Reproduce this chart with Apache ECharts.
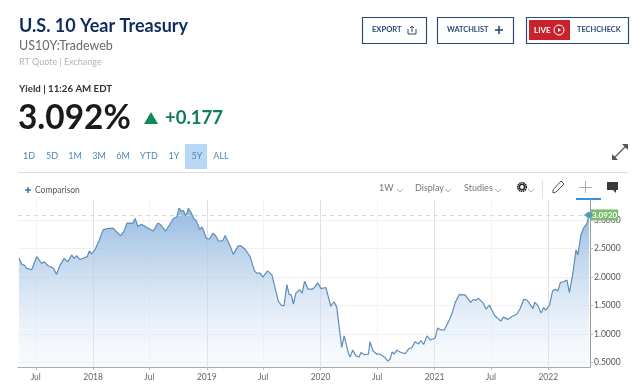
<!DOCTYPE html>
<html>
<head>
<meta charset="utf-8">
<style>
  html, body { margin: 0; height: 100%; background: #fff; }
  #chart { width: 640px; height: 389px; }
</style>
<script src="https://cdn.jsdelivr.net/npm/echarts@6/dist/echarts.min.js"></script>
</head>
<body>
<div id="chart"></div>
<script>
const dates = [
  '2017-05-08','2017-05-17','2017-05-25','2017-06-01','2017-06-07','2017-06-18','2017-06-23','2017-07-04','2017-07-20','2017-07-28',
  '2017-08-10','2017-08-26','2017-09-06','2017-09-15','2017-09-30','2017-10-12','2017-10-24','2017-11-01','2017-11-09','2017-11-20',
  '2017-12-13','2017-12-20','2017-12-27','2018-01-07','2018-01-20','2018-01-26','2018-02-02','2018-02-13','2018-03-06','2018-03-30',
  '2018-04-10','2018-04-20','2018-05-09','2018-05-16','2018-05-25','2018-06-05','2018-07-13','2018-07-28','2018-08-04','2018-08-22',
  '2018-09-16','2018-09-27','2018-10-04','2018-10-11','2018-10-18','2018-10-26','2018-11-03','2018-11-12','2018-11-20','2018-11-28',
  '2018-12-09','2018-12-17','2018-12-31','2019-01-10','2019-01-20','2019-01-29','2019-02-08','2019-02-21','2019-03-01','2019-03-16',
  '2019-03-27','2019-04-12','2019-04-20','2019-05-04','2019-05-20','2019-06-03','2019-06-10','2019-06-21','2019-06-30','2019-07-15',
  '2019-07-29','2019-08-19','2019-08-30','2019-09-06','2019-09-15','2019-09-22','2019-09-29','2019-10-06','2019-10-14','2019-10-26',
  '2019-11-03','2019-11-11','2019-11-22','2019-12-05','2019-12-13','2019-12-23','2020-01-03','2020-01-18','2020-02-03','2020-02-13',
  '2020-02-22','2020-03-09','2020-03-17','2020-03-31','2020-04-05','2020-04-13','2020-04-24','2020-05-04','2020-05-10','2020-05-21',
  '2020-06-03','2020-06-08','2020-06-17','2020-06-30','2020-07-10','2020-07-26','2020-08-04','2020-08-11','2020-08-18','2020-08-24',
  '2020-09-02','2020-09-15','2020-09-29','2020-10-11','2020-10-20','2020-10-31','2020-11-11','2020-11-18','2020-11-27','2020-12-08',
  '2020-12-18','2021-01-03','2021-01-11','2021-01-19','2021-02-01','2021-02-11','2021-02-20','2021-02-27','2021-03-08','2021-03-22',
  '2021-03-29','2021-04-09','2021-04-27','2021-05-06','2021-05-13','2021-05-22','2021-06-07','2021-06-15','2021-06-26','2021-07-14',
  '2021-08-02','2021-08-10','2021-08-24','2021-09-06','2021-09-22','2021-10-03','2021-10-14','2021-10-25','2021-10-30','2021-11-13',
  '2021-11-18','2021-11-28','2021-12-09','2021-12-17','2021-12-23','2022-01-05','2022-01-15','2022-01-23','2022-02-01','2022-02-09',
  '2022-02-19','2022-03-02','2022-03-10','2022-03-21','2022-03-31','2022-04-06','2022-04-16','2022-04-24','2022-05-05','2022-05-12'
];
const yields = [
  2.33,2.23,2.21,2.16,2.19,2.13,2.15,2.36,2.24,2.27,
  2.20,2.16,2.05,2.19,2.33,2.27,2.39,2.33,2.38,2.31,
  2.36,2.46,2.41,2.48,2.64,2.67,2.83,2.85,2.86,2.73,
  2.80,2.95,2.95,3.03,2.89,2.93,2.81,2.95,2.93,2.81,
  3.03,3.06,3.21,3.16,3.17,3.07,3.21,3.13,3.03,2.99,
  2.84,2.88,2.68,2.67,2.77,2.73,2.63,2.64,2.73,2.56,
  2.40,2.55,2.55,2.49,2.36,2.11,2.07,2.07,2.00,2.11,
  2.04,1.57,1.50,1.50,1.87,1.70,1.69,1.53,1.72,1.78,
  1.72,1.93,1.79,1.79,1.82,1.90,1.80,1.82,1.49,1.57,
  1.48,0.77,0.97,0.66,0.60,0.72,0.62,0.60,0.68,0.64,
  0.65,0.87,0.71,0.65,0.65,0.59,0.53,0.56,0.69,0.65,
  0.72,0.68,0.66,0.75,0.76,0.87,0.83,0.89,0.82,0.97,
  0.90,0.93,1.11,1.08,1.07,1.18,1.28,1.38,1.55,1.70,
  1.69,1.69,1.56,1.61,1.59,1.63,1.54,1.44,1.51,1.32,
  1.23,1.30,1.26,1.31,1.35,1.45,1.61,1.60,1.63,1.45,
  1.56,1.51,1.37,1.47,1.42,1.51,1.76,1.79,1.76,1.91,
  1.92,1.95,1.73,2.07,2.48,2.39,2.74,2.86,2.94,3.092
];
const yTicks = [0.5, 1, 1.5, 2, 2.5, 3];
const xTicks = ['2017-07-01','2018-01-01','2018-07-01','2019-01-01','2019-07-01','2020-01-01','2020-07-01','2021-01-01','2021-07-01','2022-01-01'];
const ranges = ['1D','5D','1M','3M','6M','YTD','1Y','5Y','ALL'];
const rangeX = [29,52,75,99,123,149,174,197,221];

const navy = '#2b4a75';
const latest = yields[yields.length - 1];
const times = dates.map(d => Date.parse(d));
const xTickTimes = xTicks.map(d => Date.parse(d));
const lastPoint = [times[times.length - 1], latest];

function label(text, x, y, size, color, weight, align) {
  return {
    type: 'text', x: x, y: y, silent: true,
    style: {
      text: text, fontSize: size, fill: color, fontWeight: weight || 'normal',
      fontFamily: 'Lato', align: align || 'left', verticalAlign: 'middle'
    }
  };
}
function box(x, y, w, h) {
  return { type: 'rect', shape: { x: x + 0.5, y: y + 0.5, width: w, height: h }, style: { fill: '#fff', stroke: navy, lineWidth: 1.2 } };
}
function stroke(points, color, width) {
  return { type: 'polyline', shape: { points: points }, style: { fill: 'none', stroke: color, lineWidth: width || 1 } };
}
function chevron(x, y) {
  return stroke([[x - 3, y - 1], [x, y + 2], [x + 3, y - 1]], '#999', 0.8);
}

const graphics = [
  // header
  label('U.S. 10 Year Treasury', 19, 26, 18, '#0f2c5c', 'bold'),
  label('US10Y:Tradeweb', 19, 46, 12.5, '#6a6a6a'),
  label('RT Quote | Exchange', 19, 62, 9, '#b4b4b4'),
  label('Yield | 11:26 AM EDT', 19, 89, 9.7, '#333', 'bold'),
  label('3.092%', 18, 118, 33.4, '#1a1a1a', 'bold'),
  { type: 'polygon', shape: { points: [[151, 112], [158, 124], [144, 124]] }, style: { fill: '#0c8a5a' } },
  label('+0.177', 165, 118, 18.5, '#0f7d55', 'bold'),

  // buttons
  box(362, 17, 64, 26),
  label('EXPORT', 372, 30, 7.6, navy, 'bold'),
  stroke([[408, 29], [408, 34], [416, 34], [416, 29]], navy, 1),
  stroke([[412, 32], [412, 26]], navy, 1),
  stroke([[410, 28], [412, 26], [414, 28]], navy, 1),
  box(437, 17, 76, 26),
  label('WATCHLIST', 447, 30, 7.4, navy, 'bold'),
  stroke([[495, 30], [503, 30]], navy, 1.6),
  stroke([[499, 26], [499, 34]], navy, 1.6),
  box(526, 17, 102, 26),
  { type: 'rect', shape: { x: 529, y: 20, width: 41, height: 20 }, style: { fill: '#c8232c' } },
  label('LIVE', 534, 30, 8, '#fff', 'bold'),
  { type: 'circle', shape: { cx: 559, cy: 30, r: 5 }, style: { fill: 'none', stroke: '#fff', lineWidth: 1 } },
  { type: 'polygon', shape: { points: [[558, 28], [561, 30], [558, 32]] }, style: { fill: '#fff' } },
  label('TECHCHECK', 577, 30, 7.4, navy, 'bold'),

  // range buttons
  { type: 'rect', shape: { x: 185, y: 144, width: 22, height: 25 }, style: { fill: '#b9d7f6' } },
  ...ranges.map((r, i) => label(r, rangeX[i], 156, 9, '#4f86b5', 'normal', 'center')),

  // expand icon
  stroke([[614, 158], [626, 146]], '#555', 1.3),
  { type: 'polygon', shape: { points: [[628, 144], [628, 150], [622, 144]] }, style: { fill: '#555' } },
  { type: 'polygon', shape: { points: [[612, 160], [612, 154], [618, 160]] }, style: { fill: '#555' } },

  stroke([[18, 172.5], [628, 172.5]], '#dedede', 1),

  // toolbar
  stroke([[25, 190], [31, 190]], '#2b6cb5', 1.4),
  stroke([[28, 187], [28, 193]], '#2b6cb5', 1.4),
  label('Comparison', 35, 190.5, 8.5, '#555'),
  label('1W', 379, 188, 9, '#777'),
  chevron(400, 190),
  label('Display', 415, 188, 9, '#777'),
  chevron(448, 190),
  label('Studies', 464, 188, 9, '#777'),
  chevron(498, 190),
  { type: 'circle', shape: { cx: 522, cy: 187, r: 4.3 }, style: { fill: 'none', stroke: '#222', lineWidth: 1.6, lineDash: [1.5, 0.6] } },
  { type: 'circle', shape: { cx: 522, cy: 187, r: 2.6 }, style: { fill: 'none', stroke: '#222', lineWidth: 1.4 } },
  chevron(531, 190),
  stroke([[542.5, 180], [542.5, 199]], '#e0e0e0', 1),
  { type: 'polygon', shape: { points: [[553, 190], [561, 181], [564, 184], [556, 192], [553, 193]] }, style: { fill: 'none', stroke: '#555', lineWidth: 1 } },
  stroke([[585.5, 181], [585.5, 193]], '#aaa', 1),
  stroke([[579, 187.5], [592, 187.5]], '#aaa', 1),
  { type: 'polygon', shape: { points: [[607, 182], [618, 182], [618, 190], [616, 190], [616, 193], [613, 190], [607, 190]] }, style: { fill: '#3a3a3a' } },
  { type: 'rect', shape: { x: 576, y: 198, width: 25, height: 2 }, style: { fill: '#3c8fe0' } }
];

const chart = echarts.init(document.getElementById('chart'), null, { renderer: 'canvas' });

chart.setOption({
  animation: false,
  textStyle: { fontFamily: 'Lato' },
  graphic: graphics,
  grid: { left: 18, right: 50, top: 200, bottom: 22, containLabel: false },
  xAxis: {
    type: 'value',
    scale: true,
    min: Date.parse('2017-05-05'),
    max: Date.parse('2022-05-15'),
    axisLine: { lineStyle: { color: '#aaa', width: 1 } },
    axisTick: { length: 3, lineStyle: { color: '#bbb' }, customValues: xTickTimes },
    axisLabel: {
      color: '#666', fontSize: 8.5, margin: 6, customValues: xTickTimes,
      formatter: v => new Date(v).getUTCMonth() === 0 ? String(new Date(v).getUTCFullYear()) : 'Jul'
    },
    splitLine: { show: true, lineStyle: { color: ['#f4f4f4', '#e0e0e0'] } }
  },
  yAxis: {
    type: 'value',
    position: 'right',
    min: 0.425,
    max: 3.354,
    axisLine: { show: true, lineStyle: { color: '#999' } },
    axisTick: { show: true, length: 3, lineStyle: { color: '#bbb' }, customValues: yTicks },
    axisLabel: { color: '#555', fontSize: 8.5, margin: 4, customValues: yTicks, formatter: v => v.toFixed(4) },
    splitLine: { show: true, lineStyle: { color: '#f0f0f0' } }
  },
  series: [{
    type: 'line',
    data: times.map((t, i) => [t, yields[i]]),
    showSymbol: false,
    smooth: false,
    lineStyle: { color: '#5f8db8', width: 1.2 },
    areaStyle: {
      opacity: 1,
      color: new echarts.graphic.LinearGradient(0, 0, 0, 1, [
        { offset: 0, color: 'rgba(142,182,222,0.95)' },
        { offset: 1, color: 'rgba(235,243,251,0.3)' }
      ])
    },
    endLabel: {
      show: true,
      formatter: p => p.value[1].toFixed(4),
      distance: 2,
      color: '#fff',
      fontSize: 8,
      fontWeight: 'bold',
      backgroundColor: '#7dbb6f',
      padding: [2, 1, 1, 1]
    },
    markLine: {
      silent: true,
      symbol: 'none',
      label: { show: false },
      lineStyle: { color: '#dcdcd4', type: [4, 4], width: 1 },
      data: [{ yAxis: latest }]
    },
    markPoint: {
      silent: true,
      label: { show: false },
      data: [
        { coord: lastPoint, symbol: 'triangle', symbolSize: 8, symbolRotate: 90, symbolOffset: [-2, 0], itemStyle: { color: '#7dbb6f' } },
        { coord: lastPoint, symbol: 'circle', symbolSize: 6, itemStyle: { color: '#4a9cc8' } }
      ]
    }
  }]
});

window.addEventListener('resize', chart.resize);
</script>
</body>
</html>
